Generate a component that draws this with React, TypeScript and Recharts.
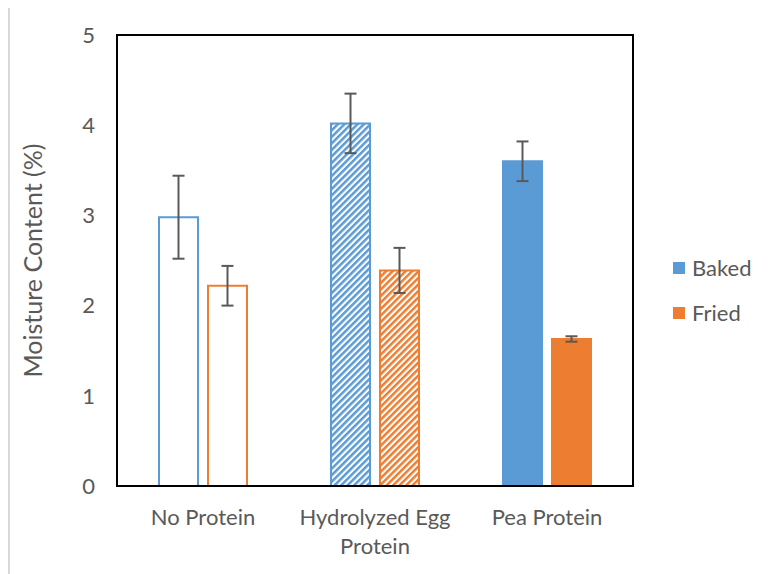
import { BarChart, Bar, XAxis, YAxis, ErrorBar, Cell, ReferenceArea } from "recharts";

const categories = ["No Protein", "Hydrolyzed Egg Protein", "Pea Protein"];
const baked = [2.98, 4.02, 3.6];
const bakedErr = [0.46, 0.33, 0.22];
const fried = [2.22, 2.39, 1.63];
const friedErr = [0.22, 0.25, 0.03];
const yTicks = [0, 1, 2, 3, 4, 5];

const blue = "#5B9BD5";
const orange = "#ED7D31";
const textColor = "#595959";
const font = "Lato, 'Open Sans', sans-serif";

const data = categories.map((c, i) => ({
  name: c,
  baked: baked[i],
  bakedErr: bakedErr[i],
  fried: fried[i],
  friedErr: friedErr[i],
}));

// white / hatched / solid, one per category
const fillsFor = (color: string, hatchId: string) => ["#ffffff", `url(#${hatchId})`, color];

// break long labels the way excel does: last word goes to the next line
function wrapLabel(s: string): string[] {
  if (s.length <= 15) return [s];
  const cut = s.lastIndexOf(" ");
  return [s.slice(0, cut), s.slice(cut + 1)];
}

function CategoryTick(props: any) {
  const { x, y, payload } = props;
  const lines = wrapLabel(String(payload.value));
  return (
    <text x={x} y={y} textAnchor="middle" fill={textColor} fontSize={22} fontFamily={font}>
      {lines.map((l, i) => (
        <tspan key={i} x={x} dy={i === 0 ? 33 : 29}>
          {l}
        </tspan>
      ))}
    </text>
  );
}

const legendItems = [
  { label: "Baked", color: blue },
  { label: "Fried", color: orange },
];

export default function App() {
  return (
    <div
      style={{
        position: "relative",
        width: 763,
        height: 568,
        marginTop: -2,
        borderLeft: "2px solid #d9d9d9",
        borderTop: "2px solid #d9d9d9",
        boxSizing: "border-box",
        background: "#fff",
      }}
    >
      <BarChart
        width={761}
        height={566}
        data={data}
        margin={{ top: 27, right: 138, bottom: 0, left: 0 }}
        barGap={10}
        barSize={39}
      >
        <defs>
          <pattern id="hatchBlue" width={4.6} height={4.6} patternUnits="userSpaceOnUse" patternTransform="rotate(45)">
            <rect x={0} y={0} width={4.6} height={4.6} fill="#ffffff" />
            <rect x={0} y={0} width={2.5} height={4.6} fill={blue} />
          </pattern>
          <pattern id="hatchOrange" width={4.6} height={4.6} patternUnits="userSpaceOnUse" patternTransform="rotate(45)">
            <rect x={0} y={0} width={4.6} height={4.6} fill="#ffffff" />
            <rect x={0} y={0} width={2.5} height={4.6} fill={orange} />
          </pattern>
        </defs>
        <XAxis
          dataKey="name"
          height={88}
          tickLine={false}
          tickSize={0}
          tickMargin={6}
          interval={0}
          axisLine={{ stroke: "#000", strokeWidth: 2 }}
          tick={<CategoryTick />}
        />
        <YAxis
          width={107}
          domain={[0, 5]}
          ticks={yTicks}
          tickLine={false}
          tickSize={0}
          tickMargin={22}
          axisLine={{ stroke: "#000", strokeWidth: 2 }}
          tick={{ fill: textColor, fontSize: 22, fontFamily: font }}
          label={{
            value: "Moisture Content (%)",
            angle: -90,
            position: "insideLeft",
            offset: 23,
            style: { textAnchor: "middle", fill: textColor, fontSize: 25, fontFamily: font },
          }}
        />
        <Bar dataKey="baked" name="Baked" stroke={blue} strokeWidth={2} isAnimationActive={false}>
          {fillsFor(blue, "hatchBlue").map((f, i) => (
            <Cell key={i} fill={f} />
          ))}
          <ErrorBar dataKey="bakedErr" width={6} stroke={textColor} strokeWidth={2} />
        </Bar>
        <Bar dataKey="fried" name="Fried" stroke={orange} strokeWidth={2} isAnimationActive={false}>
          {fillsFor(orange, "hatchOrange").map((f, i) => (
            <Cell key={i} fill={f} />
          ))}
          <ErrorBar dataKey="friedErr" width={6} stroke={textColor} strokeWidth={2} />
        </Bar>
        <ReferenceArea y1={0} y2={5} fill="none" stroke="#000" strokeWidth={2} ifOverflow="visible" />
      </BarChart>
      <div style={{ position: "absolute", left: 663, top: 237, fontFamily: font, fontSize: 22, color: textColor }}>
        {legendItems.map((it) => (
          <div key={it.label} style={{ display: "flex", alignItems: "center", height: 45 }}>
            <span style={{ width: 12, height: 12, background: it.color, marginRight: 7, display: "inline-block" }} />
            {it.label}
          </div>
        ))}
      </div>
    </div>
  );
}
